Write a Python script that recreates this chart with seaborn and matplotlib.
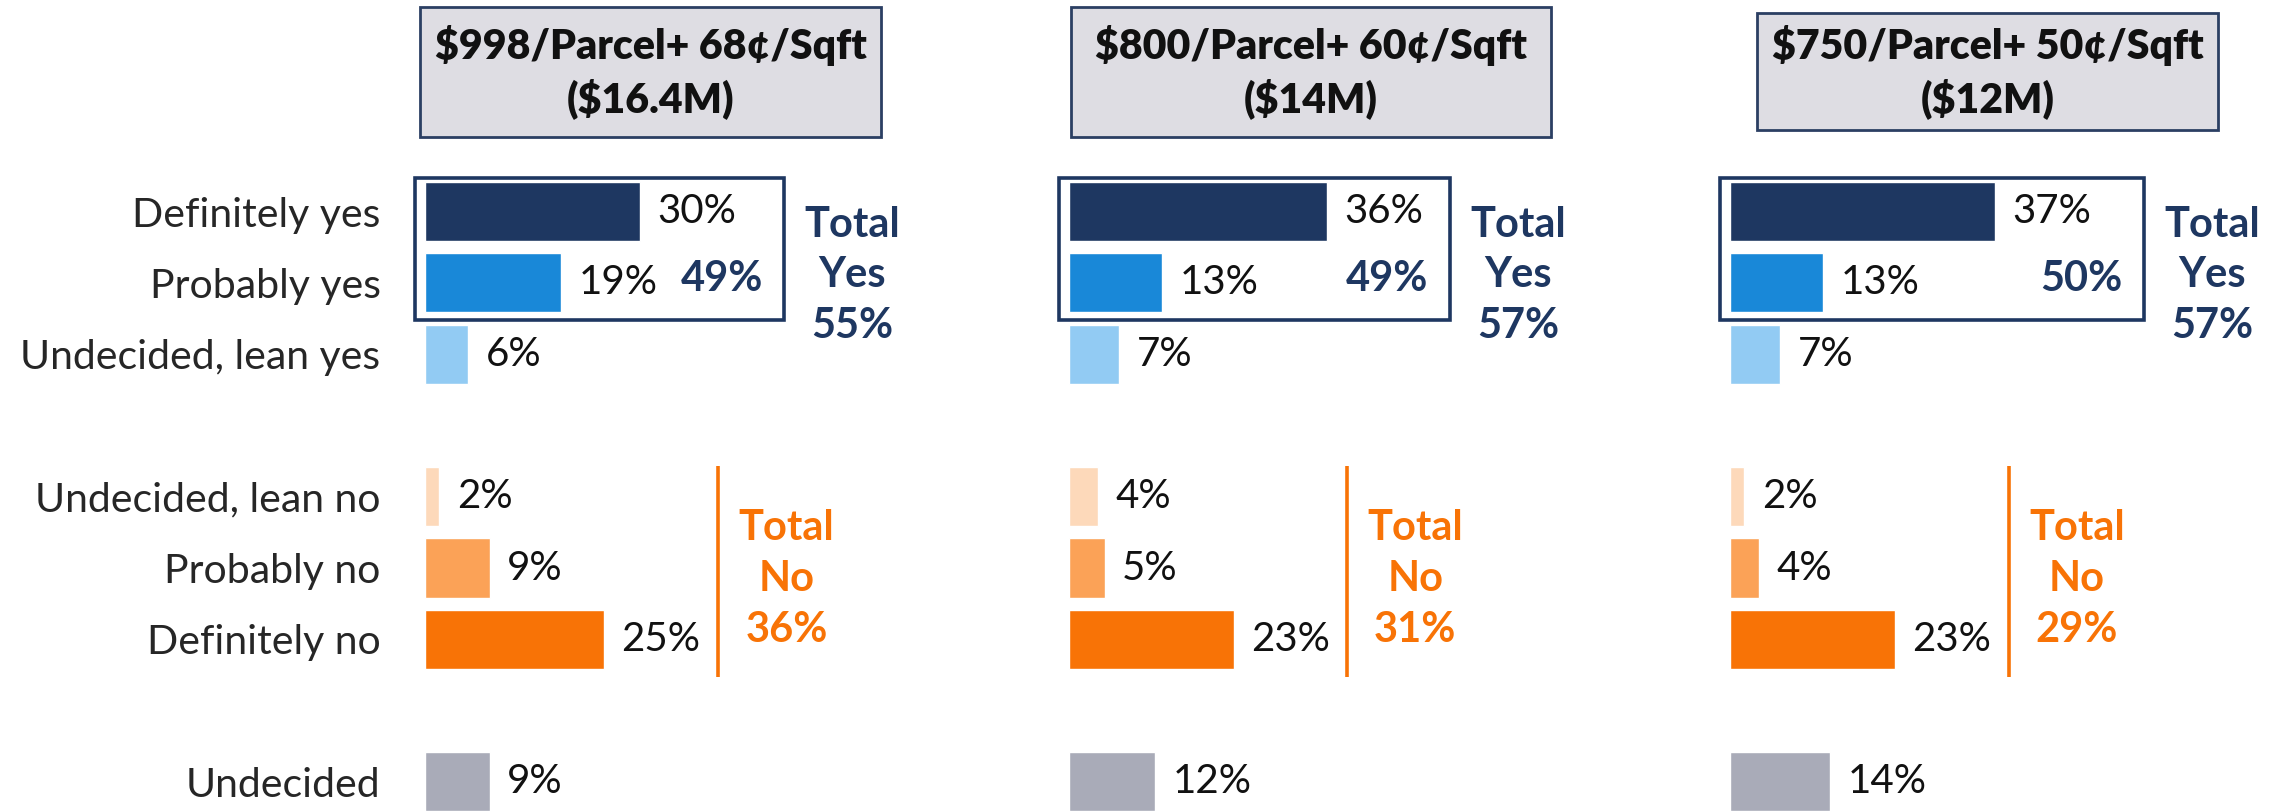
"""Ballot support by price option: yes / no / undecided bars for three proposals."""
import matplotlib
matplotlib.use("Agg")
import matplotlib.pyplot as plt
from matplotlib.patches import Rectangle
import pandas as pd
import seaborn as sns

# --- data ---
categories = ["Definitely yes", "Probably yes", "Undecided, lean yes",
              "Undecided, lean no", "Probably no", "Definitely no", "Undecided"]
option_titles = ["$998/Parcel+ 68¢/Sqft", "$800/Parcel+ 60¢/Sqft", "$750/Parcel+ 50¢/Sqft"]
option_costs = ["($16.4M)", "($14M)", "($12M)"]
option_998 = [30, 19, 6, 2, 9, 25, 9]
option_800 = [36, 13, 7, 4, 5, 23, 12]
option_750 = [37, 13, 7, 2, 4, 23, 14]
firm_yes = [49, 49, 50]
total_yes = [55, 57, 57]
total_no = [36, 31, 29]

colors = {
    "Definitely yes": "#1E3761",
    "Probably yes": "#1988D8",
    "Undecided, lean yes": "#92CBF3",
    "Undecided, lean no": "#FDD9BA",
    "Probably no": "#FBA257",
    "Definitely no": "#F87306",
    "Undecided": "#A9ABB8",
}
NAVY = "#1E3761"
ORANGE = "#F87306"

# --- layout (pixels of the 2282x811 canvas) ---
W, H = 2282, 811
PX_PER_PCT = 7.17
XMAX = 60
bar_left = [425, 1069, 1730]
yes_box_right = [50.1, 53.1, 57.7]     # in % units of each panel
no_line_x = [40.9, 38.8, 38.9]
header_boxes = [(420, 7, 881, 137), (1071, 7, 1551, 137), (1757, 13, 2218, 130)]
row_top, row_pitch = 211.5, 71.3

gap = ["gap1", "gap2"]
row_order = categories[:3] + [gap[0]] + categories[3:6] + [gap[1]] + categories[6:]

sns.set_theme(style="white")
plt.rcParams["font.family"] = ["Lato", "DejaVu Sans"]

fig = plt.figure(figsize=(W / 100, H / 100), dpi=100)

ax_top = row_top - row_pitch / 2
ax_h = row_pitch * len(row_order)
for i, values in enumerate([option_998, option_800, option_750]):
    df = pd.DataFrame({"response": categories, "pct": values})
    ax = fig.add_axes([bar_left[i] / W, 1 - (ax_top + ax_h) / H,
                       XMAX * PX_PER_PCT / W, ax_h / H])
    ax.patch.set_alpha(0)
    sns.barplot(data=df, x="pct", y="response", hue="response", order=row_order,
                palette=colors, width=0.83, legend=False, ax=ax, saturation=1)
    for cont in ax.containers:
        ax.bar_label(cont, fmt="{:.0f}%", padding=12.5, fontsize=29, color="#111111")
    ax.set_xlim(0, XMAX)
    ax.set_ylim(len(row_order) - 0.5, -0.5)
    ax.set_xlabel("")
    ax.set_ylabel("")
    ax.set_xticks([])
    sns.despine(ax=ax, left=True, bottom=True)
    if i == 0:
        ax.set_yticks(range(len(row_order)))
        ax.set_yticklabels(["" if r in gap else r for r in row_order], fontsize=29.5)
        ax.tick_params(axis="y", length=0, pad=32)
    else:
        ax.set_yticks([])

    # box around the firm yes answers
    x0, x1 = -1.4, yes_box_right[i]
    ax.add_patch(Rectangle((x0, -0.47), x1 - x0, 1.985, fill=False,
                           edgecolor=NAVY, lw=2.6, clip_on=False))
    ax.text(x1 - 3, 0.95, f"{firm_yes[i]}%", ha="right", va="center",
            fontsize=30, fontweight="bold", color=NAVY, clip_on=False)
    tx = x1 + 9.5
    for dy, s in zip([0.19, 0.895, 1.6], ["Total", "Yes", f"{total_yes[i]}%"]):
        ax.text(tx, dy, s, ha="center", va="center", fontsize=30,
                fontweight="bold", color=NAVY, clip_on=False)

    # orange divider and total no
    lx = no_line_x[i]
    ax.vlines(lx, 3.57, 6.53, color=ORANGE, lw=2.6, clip_on=False)
    for dy, s in zip([4.44, 5.155, 5.87], ["Total", "No", f"{total_no[i]}%"]):
        ax.text(lx + 9.5, dy, s, ha="center", va="center", fontsize=30,
                fontweight="bold", color=ORANGE, clip_on=False)

# header boxes with the price options
for (bx0, by0, bx1, by1), title, cost in zip(header_boxes, option_titles, option_costs):
    fig.patches.append(Rectangle((bx0 / W, 1 - by1 / H), (bx1 - bx0) / W, (by1 - by0) / H,
                                 transform=fig.transFigure, facecolor="#DEDDE3",
                                 edgecolor="#2B3F63", lw=2))
    cx = (bx0 + bx1) / 2 / W
    cy = (by0 + by1) / 2
    fig.text(cx, 1 - (cy - 26) / H, title, ha="center", va="center",
             fontsize=29.5, fontweight="heavy", color="#111111")
    fig.text(cx, 1 - (cy + 27) / H, cost, ha="center", va="center",
             fontsize=29.5, fontweight="heavy", color="#111111")

fig.savefig("out.png", dpi=100, facecolor="white")
